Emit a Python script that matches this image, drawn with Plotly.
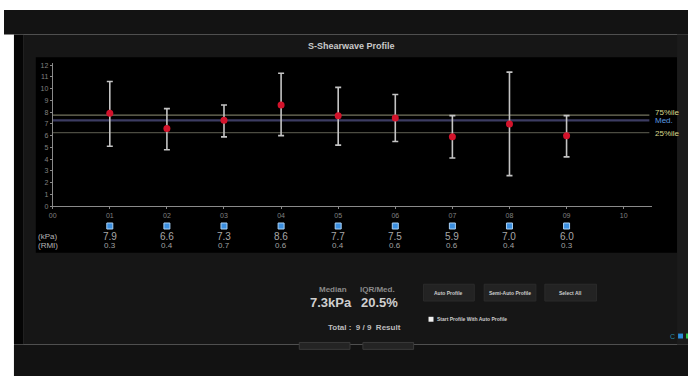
import plotly.graph_objects as go

W, H = 688, 379

# ---------------- data ----------------
positions = [1, 2, 3, 4, 5, 6, 7, 8, 9]
pos_labels = ["00", "01", "02", "03", "04", "05", "06", "07", "08", "09", "10"]
kpa_values = [7.9, 6.6, 7.3, 8.6, 7.7, 7.5, 5.9, 7.0, 6.0]
rmi_values = [0.3, 0.4, 0.7, 0.6, 0.4, 0.6, 0.6, 0.4, 0.3]
bar_top = [10.6, 8.3, 8.6, 11.3, 10.1, 9.5, 7.7, 11.4, 7.7]
bar_bottom = [5.1, 4.8, 5.9, 6.0, 5.2, 5.5, 4.1, 2.6, 4.2]
q75 = 7.75
median = 7.3
q25 = 6.25
y_ticks = list(range(0, 13))

err_plus = [t - v for t, v in zip(bar_top, kpa_values)]
err_minus = [v - b for v, b in zip(kpa_values, bar_bottom)]


def X(px):
    return px / W


def Y(py):
    return 1 - py / H


FONT = "Liberation Sans, Arial, sans-serif"
NOLINE = dict(width=0)

fig = go.Figure()

# error bars + points
fig.add_trace(go.Scatter(
    x=positions, y=kpa_values, mode="markers",
    marker=dict(color="#d3132b", size=7),
    error_y=dict(type="data", symmetric=False, array=err_plus, arrayminus=err_minus,
                 color="#c4c4c4", thickness=1.6, width=3),
    showlegend=False, hoverinfo="skip",
))

# blue selection squares under each position
fig.add_trace(go.Scatter(
    x=positions, y=[Y(227)] * len(positions), yaxis="y2", mode="markers",
    marker=dict(symbol="square", color="#3b8fe0", size=6, line=dict(color="#a8d0f5", width=1)),
    showlegend=False, hoverinfo="skip", cliponaxis=False,
))


def rect(x0, x1, y0, y1, fill, line=NOLINE, layer="below"):
    return dict(type="rect", xref="paper", yref="paper", x0=X(x0), x1=X(x1), y0=Y(y1), y1=Y(y0),
                fillcolor=fill, line=line, layer=layer)


shapes = []
# page backgrounds
shapes.append(rect(0, W, 8, 33, "#131313"))
shapes.append(rect(10, W, 347, H, "#121212"))
shapes.append(rect(10, 20, 33, 347, "#050505"))
shapes.append(rect(20, W, 33, 347, "#161616"))
shapes.append(rect(32, 677, 56, 254, "#000000"))
shapes.append(rect(677, W, 33, 347, "#1b1b1b"))

# percentile lines
shapes.append(dict(type="line", xref="x", yref="y", x0=0, x1=10.45, y0=q75, y1=q75,
                   line=dict(color="#74745f", width=1.2), layer="below"))
shapes.append(dict(type="line", xref="x", yref="y", x0=0, x1=10.45, y0=median, y1=median,
                   line=dict(color="#3c3c62", width=2.2), layer="below"))
shapes.append(dict(type="line", xref="x", yref="y", x0=0, x1=10.45, y0=q25, y1=q25,
                   line=dict(color="#4c4c42", width=1.2), layer="below"))

# buttons
for x0, x1 in [(422, 473), (483, 535), (544, 596)]:
    shapes.append(rect(x0, x1, 286, 303, "#232323", dict(color="#2b2b2b", width=1)))
for x0, x1 in [(297, 348), (361, 412)]:
    shapes.append(rect(x0, x1, 345, 352, "#242424", dict(color="#3a3a3a", width=1)))
# checkbox
shapes.append(rect(427, 432, 319, 324, "#f0f0f0", layer="above"))
# right-bottom icons
shapes.append(rect(678, 683, 336, 341, "#2a8ad8", layer="above"))
shapes.append(rect(686, 688, 336, 341, "#2bc04a", layer="above"))


def txt(text, x, y, size, color, xref="paper", yref="paper", xanchor="center"):
    return dict(text=text, x=x, y=y, xref=xref, yref=yref, xanchor=xanchor, yanchor="middle",
                showarrow=False, font=dict(color=color, size=size, family=FONT))


ann = []
ann.append(txt("<b>S-Shearwave Profile</b>", X(350), Y(45), 9, "#c9c9c9"))
ann.append(txt("75%ile", X(653), q75 + 0.22, 8, "#d8d88c", yref="y", xanchor="left"))
ann.append(txt("Med.", X(653), median - 0.02, 8, "#5a9ae0", yref="y", xanchor="left"))
ann.append(txt("25%ile", X(653), q25 - 0.05, 8, "#d8d88c", yref="y", xanchor="left"))
ann.append(txt("(kPa)", X(44), Y(237.5), 8, "#b4b4b4"))
ann.append(txt("(RMI)", X(44), Y(246.5), 8, "#b4b4b4"))
for p, k, r in zip(positions, kpa_values, rmi_values):
    ann.append(txt(f"{k:.1f}", p, Y(237.5), 10, "#a8a8a8", xref="x"))
    ann.append(txt(f"{r:.1f}", p, Y(247), 8, "#a0a0a0", xref="x"))

# stats
ann.append(txt("<b>Median</b>", X(331), Y(291), 8, "#8a8a8a"))
ann.append(txt("<b>IQR/Med.</b>", X(376), Y(291), 8, "#8a8a8a"))
ann.append(txt(f"<b>{median:.1f}kPa</b>", X(329), Y(305), 13, "#cfcfcf"))
ann.append(txt("<b>20.5%</b>", X(378), Y(305), 13, "#cfcfcf"))
ann.append(txt(f"<b>Total :  {len(positions)} / {len(positions)}  Result</b>", X(363), Y(330), 8, "#bdbdbd"))
for label, cx in [("Auto Profile", 447.5), ("Semi-Auto Profile", 509), ("Select All", 570)]:
    ann.append(txt(f"<b>{label}</b>", X(cx), Y(295), 5, "#cccccc"))
ann.append(txt("<b>Start Profile With Auto Profile</b>", X(434), Y(321.5), 5, "#cccccc", xanchor="left"))
ann.append(txt("C", X(672), Y(338.5), 7, "#2a8aa0"))

fig.update_layout(
    width=W, height=H,
    margin=dict(l=0, r=0, t=0, b=0),
    paper_bgcolor="#ffffff",
    plot_bgcolor="rgba(0,0,0,0)",
    shapes=shapes,
    annotations=ann,
    xaxis=dict(domain=[X(49), X(652)], range=[0, 10.5],
               tickvals=list(range(len(pos_labels))), ticktext=pos_labels,
               showgrid=False, zeroline=False, showline=True, linecolor="#8a8a8a", linewidth=1,
               ticks="outside", ticklen=2, tickcolor="#8a8a8a",
               tickfont=dict(color="#808080", size=7, family=FONT)),
    yaxis=dict(domain=[Y(207), Y(62)], range=[0, 12.16],
               tickvals=y_ticks,
               showgrid=False, zeroline=False, showline=True, linecolor="#8a8a8a", linewidth=1,
               ticks="outside", ticklen=2, tickcolor="#8a8a8a",
               tickfont=dict(color="#808080", size=7, family=FONT)),
    yaxis2=dict(domain=[0, 1], range=[0, 1], anchor="x", visible=False, fixedrange=True),
)

fig.write_html("out.html")
